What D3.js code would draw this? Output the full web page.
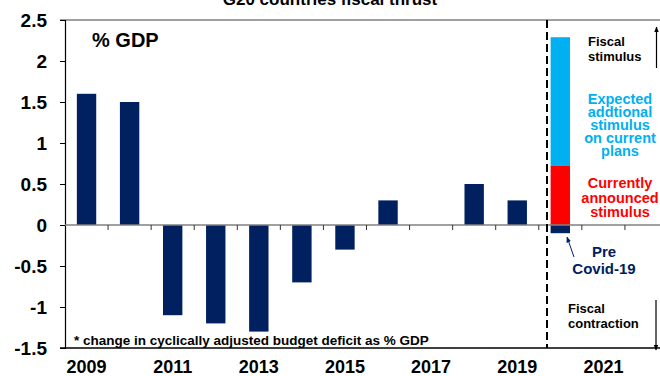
<!DOCTYPE html>
<html lang="en">
<head>
  <meta charset="UTF-8">
  <title>G20 countries fiscal thrust</title>
  <script src="https://d3js.org/d3.v7.min.js"></script>
  <style>
    body {
      margin: 0;
      background: #ffffff;
      font-family: "Liberation Sans", Arial, sans-serif;
    }
    svg text { font-weight: bold; }
  </style>
</head>
<body>
  <div id="chart"></div>
  <script>
    // data
    const years = ["2009", "2010", "2011", "2012", "2013", "2014", "2015", "2016", "2017", "2018", "2019", "2020", "2021", "2022"];
    const thrust = [1.6, 1.5, -1.1, -1.2, -1.3, -0.7, -0.3, 0.3, 0, 0.5, 0.3, -0.1, null, null];
    const stimulusYear = "2020";
    const announced = 0.72;
    const additional = 1.57;
    const yTicks = [-1.5, -1, -0.5, 0, 0.5, 1, 1.5, 2, 2.5];
    const xLabels = ["2009", "2011", "2013", "2015", "2017", "2019", "2021"];

    const width = 660, height = 376;
    const plotLeft = 65, plotTop = 20, plotBottom = 348;
    const navy = "#002060", sky = "#00b0f0", red = "#ff0000";

    const svg = d3.select("#chart").append("svg").attr("width", width).attr("height", height);

    const defs = svg.append("defs");
    function marker(id, color, size) {
      defs.append("marker").attr("id", id)
        .attr("viewBox", "0 0 10 10").attr("refX", 9).attr("refY", 5)
        .attr("markerWidth", size).attr("markerHeight", size)
        .attr("orient", "auto")
        .append("path").attr("d", "M0,1 L10,5 L0,9 Z").attr("fill", color);
    }
    marker("headBlack", "#000", 5);
    marker("headNavy", navy, 6);

    const x = d3.scaleBand().domain(years).range([plotLeft, 668]).paddingInner(0.55).paddingOuter(0.275);
    const y = d3.scaleLinear().domain([-1.5, 2.5]).range([plotBottom, plotTop]);
    const gap = x.step() - x.bandwidth();

    // title, cut off at the top
    svg.append("text").attr("x", 330).attr("y", 5).attr("text-anchor", "middle")
      .style("font-size", "17px").text("G20 countries fiscal thrust");

    // frame lines
    svg.append("line").attr("x1", 60).attr("x2", width).attr("y1", y(2.5)).attr("y2", y(2.5))
      .attr("stroke", "#808080").attr("stroke-width", 1.5);
    svg.append("line").attr("x1", 60).attr("x2", width).attr("y1", y(-1.5)).attr("y2", y(-1.5))
      .attr("stroke", "#000").attr("stroke-width", 1.5);

    // y axis
    const yAxis = svg.append("g").attr("transform", `translate(${plotLeft},0)`)
      .call(d3.axisLeft(y).tickValues(yTicks).tickSize(5).tickPadding(13).tickFormat(d => String(d)));
    yAxis.select(".domain").attr("stroke", "#000").attr("stroke-width", 1.2);
    yAxis.selectAll(".tick line").attr("stroke", "#000");
    yAxis.selectAll("text").style("font-size", "19px").attr("fill", "#000")
      .style("font-family", "'Liberation Sans', Arial, sans-serif");

    // bars
    svg.append("g").selectAll("rect")
      .data(years.map((yr, i) => ({ yr, v: thrust[i] })).filter(d => d.v))
      .join("rect")
      .attr("x", d => x(d.yr))
      .attr("y", d => y(Math.max(0, d.v)))
      .attr("width", x.bandwidth())
      .attr("height", d => Math.abs(y(d.v) - y(0)))
      .attr("fill", navy);

    // stacked stimulus bar
    svg.append("rect").attr("x", x(stimulusYear)).attr("width", x.bandwidth())
      .attr("y", y(announced)).attr("height", y(0) - y(announced)).attr("fill", red);
    svg.append("rect").attr("x", x(stimulusYear)).attr("width", x.bandwidth())
      .attr("y", y(announced + additional)).attr("height", y(announced) - y(announced + additional)).attr("fill", sky);

    // zero line and category ticks
    svg.append("line").attr("x1", plotLeft).attr("x2", width).attr("y1", y(0)).attr("y2", y(0))
      .attr("stroke", "#808080").attr("stroke-width", 1.5);
    svg.append("g").selectAll("line").data(years.slice(1)).join("line")
      .attr("x1", d => x(d) - gap / 2).attr("x2", d => x(d) - gap / 2)
      .attr("y1", y(0)).attr("y2", y(0) + 5)
      .attr("stroke", "#333").attr("stroke-width", 1);

    // x labels
    const xAxis = svg.append("g").attr("transform", `translate(0,${plotBottom})`)
      .call(d3.axisBottom(x).tickValues(xLabels).tickSize(0).tickPadding(12));
    xAxis.select(".domain").remove();
    xAxis.selectAll("text").style("font-size", "18px").attr("fill", "#000")
      .style("font-family", "'Liberation Sans', Arial, sans-serif");

    // dashed divider
    svg.append("line").attr("x1", 547).attr("x2", 547).attr("y1", plotTop).attr("y2", plotBottom)
      .attr("stroke", "#000").attr("stroke-width", 2).attr("stroke-dasharray", "8,4");

    // annotations
    svg.append("text").attr("x", 92).attr("y", 47).style("font-size", "20px").text("% GDP");
    svg.append("text").attr("x", 74).attr("y", 345).style("font-size", "13.5px")
      .text("* change in cyclically adjusted budget deficit as % GDP");

    function lines(arr, xPos, y0, dy, size, color, anchor) {
      const t = svg.append("text").attr("x", xPos).attr("y", y0).attr("text-anchor", anchor)
        .style("font-size", size + "px").attr("fill", color);
      arr.forEach((s, i) => t.append("tspan").attr("x", xPos).attr("y", y0 + i * dy).text(s));
    }
    lines(["Fiscal", "stimulus"], 588, 46, 15, 13, "#000", "start");
    lines(["Expected", "addtional", "stimulus", "on current", "plans"], 620, 104, 13, 14.5, sky, "middle");
    lines(["Currently", "announced", "stimulus"], 620, 188, 14.5, 14.5, red, "middle");
    lines(["Pre", "Covid-19"], 604, 257, 17, 15, navy, "middle");
    lines(["Fiscal", "contraction"], 568, 313, 15, 13, "#000", "start");

    svg.append("line").attr("x1", 656.5).attr("x2", 656.5).attr("y1", 68).attr("y2", 27)
      .attr("stroke", "#000").attr("stroke-width", 1.2).attr("marker-end", "url(#headBlack)");
    svg.append("line").attr("x1", 656).attr("x2", 656).attr("y1", 300).attr("y2", 350)
      .attr("stroke", "#000").attr("stroke-width", 1.2).attr("marker-end", "url(#headBlack)");
    svg.append("line").attr("x1", 574).attr("x2", 567).attr("y1", 257).attr("y2", 237)
      .attr("stroke", navy).attr("stroke-width", 1).attr("marker-end", "url(#headNavy)");
  </script>
</body>
</html>
